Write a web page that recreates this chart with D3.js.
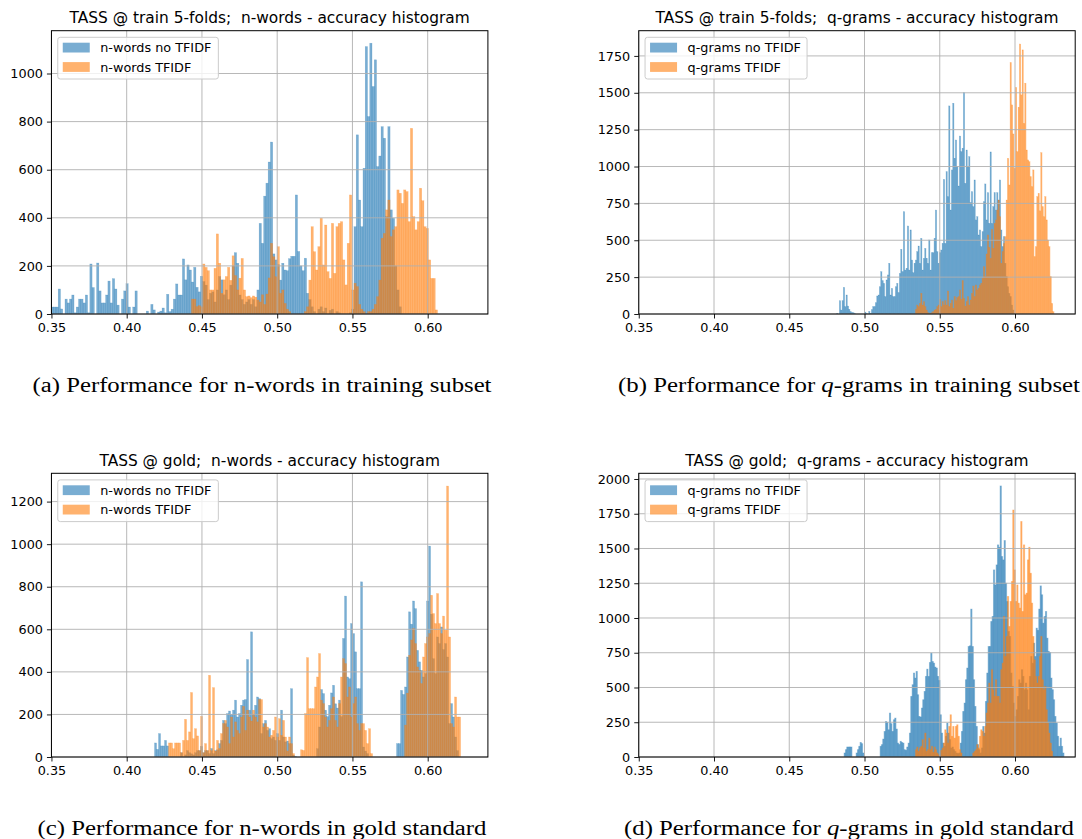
<!DOCTYPE html>
<html>
<head>
<meta charset="utf-8">
<script src="https://cdn.jsdelivr.net/npm/d3@7/dist/d3.min.js"></script>
<style>
  html, body { margin: 0; padding: 0; background: #ffffff; }
  svg { display: block; }
  text { font-family: "DejaVu Sans", sans-serif; }
</style>
</head>
<body>
<svg id="chart" width="1082" height="839"></svg>
<script>
// ---------------- data ----------------
const xTicks = [0.35, 0.40, 0.45, 0.50, 0.55, 0.60];
const yTicksA = [0, 200, 400, 600, 800, 1000];
const yTicksB = [0, 250, 500, 750, 1000, 1250, 1500, 1750];
const yTicksC = [0, 200, 400, 600, 800, 1000, 1200];
const yTicksD = [0, 250, 500, 750, 1000, 1250, 1500, 1750, 2000];

const titles = [
  "TASS @ train 5-folds;  n-words - accuracy histogram",
  "TASS @ train 5-folds;  q-grams - accuracy histogram",
  "TASS @ gold;  n-words - accuracy histogram",
  "TASS @ gold;  q-grams - accuracy histogram"
];
const seriesNames = [
  ["n-words no TFIDF", "n-words TFIDF"],
  ["q-grams no TFIDF", "q-grams TFIDF"],
  ["n-words no TFIDF", "n-words TFIDF"],
  ["q-grams no TFIDF", "q-grams TFIDF"]
];
const captions = [
  ["(a) Performance for n-words in training subset", null],
  ["(b) Performance for ", "q", "-grams in training subset"],
  ["(c) Performance for n-words in gold standard", null],
  ["(d) Performance for ", "q", "-grams in gold standard"]
];

// (a) train, n-words : histogram bins (start, bin width, counts)
const aNoStart = 0.350, aNoWidth = 0.0015;
const aNo = [29,29,29,104,21,0,62,46,62,79,5,29,62,62,46,79,5,208,110,0,
  212,96,46,46,79,137,46,147,104,37,0,62,96,126,29,0,29,96,0,0,
  0,0,12,0,40,17,0,8,12,25,5,82,10,20,62,125,79,79,229,142,
  204,183,133,194,111,92,157,135,120,60,86,92,50,100,156,142,80,100,60,120,
  200,255,211,79,60,40,50,60,40,60,30,100,377,294,490,544,632,715,250,225,
  205,141,211,183,180,230,240,240,495,260,200,180,232,86,60,30,10,0,20,30,
  10,25,0,15,20,0,10,5,0,0,0,0,5,20,363,745,474,363,606,1112,
  821,1126,946,1057,613,657,779,731,405,779,433,398,200,100,30];
const aTfStart = 0.443, aTfWidth = 0.0015;
const aTf = [62,62,31,35,30,208,194,180,100,100,190,333,211,86,142,156,194,140,242,160,
  100,149,231,100,72,75,68,75,70,58,50,80,40,83,150,294,238,155,280,86,
  100,44,20,10,0,0,0,0,0,0,10,30,141,363,259,183,280,398,204,370,
  176,148,377,169,363,377,384,225,121,294,495,100,128,114,40,20,10,0,10,10,
  20,40,72,141,315,335,433,474,322,350,363,516,502,460,516,509,384,772,405,350,
  384,523,471,363,356,225,148,148,17];

// (b) train, q-grams
const bNoStart = 0.4815, bNoWidth = 0.000886;
const bNo = [5,0,90,27,90,181,50,129,54,32,16,9,9,5,0,0,0,0,0,0,
  0,13,5,0,18,5,30,50,50,77,122,129,185,287,226,208,118,231,265,344,
  129,174,118,118,185,208,145,276,439,287,694,298,310,597,298,570,366,280,344,366,
  423,461,344,513,298,378,445,378,344,502,298,416,416,513,705,423,344,416,434,479,
  913,479,965,796,1411,705,977,1429,1056,1180,999,868,1207,1101,1124,1501,886,1112,999,1067,
  755,830,728,909,638,660,536,570,457,558,762,882,638,823,615,1099,615,728,823,705,
  823,773,909,570,457,525,344,253,185,140,118,61,27,5];
const bTfStart = 0.5338, bTfWidth = 0.000886;
const bTf = [32,61,50,72,140,61,84,50,27,9,5,5,9,16,27,32,50,61,100,50,
  84,61,90,61,156,50,72,95,39,118,90,111,118,163,100,226,106,54,84,118,
  61,95,140,190,118,197,163,174,197,208,242,321,253,407,536,452,378,574,445,615,
  638,705,773,660,344,423,479,525,773,1056,875,1705,1418,1221,988,1537,1101,1402,1831,1486,
  1791,1293,1565,1112,1045,1033,931,864,977,389,457,796,818,700,1094,728,660,796,638,502,
  457,253,72,16];

// (c) gold, n-words
const cNoStart = 0.4185, cNoWidth = 0.001329;
const cNo = [66,36,110,52,52,78,52,0,0,0,0,0,0,20,0,10,30,20,15,10,
  20,30,30,50,20,30,30,16,40,16,30,34,63,78,172,157,204,216,200,220,
  267,188,204,243,267,270,458,220,588,200,243,282,274,110,157,172,125,133,86,94,
  78,110,78,220,94,71,75,63,321,8,3,0,0,0,0,0,0,0,0,0,
  0,39,141,317,298,220,190,243,301,337,250,230,267,190,557,756,376,368,627,580,
  494,321,321,823,47,28,16,0,0,0,0,0,0,0,0,0,0,0,0,0,
  0,63,63,313,294,329,470,682,624,733,697,501,447,407,376,392,733,991,671,462,
  392,564,533,611,505,533,470,157,251,188,94,30];
const cTfStart = 0.4278, cTfWidth = 0.001329;
const cTf = [66,66,39,66,66,66,20,78,177,78,118,303,86,133,99,30,191,20,63,30,
  384,30,326,28,78,40,110,157,172,141,63,188,94,165,125,110,188,238,125,220,
  188,169,220,188,165,270,270,141,157,141,94,102,125,188,94,180,102,172,94,28,
  94,63,16,0,0,0,34,31,204,467,227,227,227,329,376,486,267,251,188,141,
  172,227,282,172,141,251,376,462,439,282,329,188,251,282,157,125,157,157,125,63,
  133,16,0,0,0,0,0,0,0,0,0,0,0,0,0,0,0,0,150,300,
  478,550,604,533,423,407,345,470,533,564,580,760,674,627,768,627,580,662,596,1273,
  564,157,141,282,188,188];

// (d) gold, q-grams
const dNoStart = 0.4864, dNoWidth = 0.000886;
const dNo = [29,53,72,72,72,72,0,0,0,29,53,77,105,96,29,0,0,0,0,0,
  0,0,0,0,0,0,0,77,89,129,184,256,249,196,316,240,184,268,280,201,
  100,90,113,105,100,53,48,72,100,172,436,520,604,568,616,448,292,288,352,412,
  472,580,632,580,680,747,687,675,647,640,580,551,304,172,100,77,149,244,172,125,
  65,72,53,41,29,24,29,100,184,328,388,556,640,795,800,1064,795,556,364,220,
  89,53,29,65,220,172,400,604,795,795,975,1011,1346,1238,1382,1526,1509,1950,1442,1418,
  1557,1250,1119,903,867,604,508,388,292,340,436,556,532,628,580,484,532,484,340,580,
  723,675,819,723,927,911,1064,1231,1167,963,1011,1047,855,760,752,568,484,412,292,244,
  149,77,136,77,29];
const dTfStart = 0.5338, dTfWidth = 0.000886;
const dTf = [53,72,41,65,77,125,65,172,41,53,136,53,77,34,72,53,29,17,0,48,
  65,100,196,172,100,220,304,149,220,136,220,232,149,53,29,0,0,0,0,0,
  0,0,0,29,41,53,89,65,149,196,184,149,220,316,388,532,388,628,484,436,
  556,436,436,388,628,675,1011,723,867,1155,939,1119,1262,1777,1346,1119,1238,1107,1071,1694,
  1047,1526,1167,1179,1418,1509,1322,1107,867,699,580,532,580,723,867,556,484,508,340,244,
  172,100,41];

// ---------------- drawing ----------------
const BLUE = "#1f77b4", ORANGE = "#ff7f0e";
const svg = d3.select("#chart");

const panels = [
  { box: [51.45, 30.7, 487.9, 314], yMax: 1178, yTicks: yTicksA, seam: 0.5,
    series: [[aNoStart, aNoWidth, aNo], [aTfStart, aTfWidth, aTf]] },
  { box: [638.75, 30.7, 1075.2, 314], yMax: 1921, yTicks: yTicksB, seam: 0.5,
    series: [[bNoStart, bNoWidth, bNo], [bTfStart, bTfWidth, bTf]] },
  { box: [51.45, 473.3, 487.9, 757], yMax: 1333, yTicks: yTicksC, seam: 0.5,
    series: [[cNoStart, cNoWidth, cNo], [cTfStart, cTfWidth, cTf]] },
  { box: [638.75, 473.3, 1075.2, 757], yMax: 2041, yTicks: yTicksD, seam: 0.8,
    series: [[dNoStart, dNoWidth, dNo], [dTfStart, dTfWidth, dTf]] }
];

const captionPos = [[262, 392, 459], [849, 392, 462], [262, 835, 449], [849, 835, 450]];

panels.forEach((p, pi) => {
  const [x0, y0, x1, y1] = p.box;
  const x = d3.scaleLinear().domain([0.35, 0.64]).range([x0, x1]);
  const y = d3.scaleLinear().domain([0, p.yMax]).range([y1, y0]);
  const g = svg.append("g");

  const clipId = "clip" + pi;
  svg.append("clipPath").attr("id", clipId).append("rect")
    .attr("x", x0).attr("y", y0).attr("width", x1 - x0).attr("height", y1 - y0);

  const bars = g.append("g").attr("clip-path", `url(#${clipId})`);
  p.series.forEach((s, si) => {
    const [start, w, counts] = s;
    const col = si === 0 ? BLUE : ORANGE;
    const data = counts.map((c, i) => ({ lo: start + i * w, hi: start + (i + 1) * w, c }))
      .filter(d => d.c > 0);
    bars.append("g").selectAll("rect").data(data).join("rect")
      .attr("x", d => x(d.lo))
      .attr("width", d => x(d.hi) - x(d.lo))
      .attr("y", d => y(d.c))
      .attr("height", d => y(0) - y(d.c))
      .attr("fill", col)
      .attr("fill-opacity", 0.6)
      .attr("stroke", col)
      .attr("stroke-opacity", 0.35)
      .attr("stroke-width", p.seam);
  });

  // grid (drawn above the bars like matplotlib's default)
  const grid = g.append("g").attr("stroke", "#b0b0b0").attr("stroke-width", 0.9);
  xTicks.forEach(t => grid.append("line")
    .attr("x1", x(t)).attr("x2", x(t)).attr("y1", y0).attr("y2", y1));
  p.yTicks.forEach(t => grid.append("line")
    .attr("x1", x0).attr("x2", x1).attr("y1", y(t)).attr("y2", y(t)));

  // axes
  const xAxis = d3.axisBottom(x).tickValues(xTicks).tickFormat(d3.format(".2f"))
    .tickSizeInner(4.5).tickSizeOuter(0).tickPadding(4);
  const yAxis = d3.axisLeft(y).tickValues(p.yTicks).tickFormat(d3.format("d"))
    .tickSizeInner(4.5).tickSizeOuter(0).tickPadding(4);
  const gx = g.append("g").attr("transform", `translate(0,${y1})`).call(xAxis);
  const gy = g.append("g").attr("transform", `translate(${x0},0)`).call(yAxis);
  [gx, gy].forEach(ax => {
    ax.select(".domain").remove();
    ax.selectAll("line").attr("stroke", "#000").attr("stroke-width", 0.9);
    ax.selectAll("text").attr("fill", "#000").style("font-size", "12.8px")
      .style("font-family", "'DejaVu Sans', sans-serif");
  });

  // frame
  g.append("rect").attr("x", x0).attr("y", y0).attr("width", x1 - x0).attr("height", y1 - y0)
    .attr("fill", "none").attr("stroke", "#000").attr("stroke-width", 1);

  // title
  g.append("text").attr("x", (x0 + x1) / 2).attr("y", y0 - 7.5)
    .attr("text-anchor", "middle").style("font-size", "15.4px").style("white-space", "pre")
    .attr("fill", "#000").text(titles[pi]);

  // legend
  const lg = g.append("g").attr("transform", `translate(${x0 + 6.3},${y0 + 6.6})`);
  const lw = pi % 2 === 0 ? 160.6 : 162;
  lg.append("rect").attr("width", lw).attr("height", 41.7).attr("rx", 2.5)
    .attr("fill", "#fff").attr("fill-opacity", 0.8).attr("stroke", "#cccccc").attr("stroke-width", 1);
  seriesNames[pi].forEach((nm, i) => {
    lg.append("rect").attr("x", 5).attr("y", 5.4 + i * 19.4).attr("width", 27).attr("height", 9.8)
      .attr("fill", i === 0 ? BLUE : ORANGE).attr("fill-opacity", 0.6);
    lg.append("text").attr("x", 42.5).attr("y", 15.2 + i * 19.4)
      .style("font-size", "12.8px").attr("fill", "#000").text(nm);
  });

  // caption
  const [cx, cy, cw] = captionPos[pi];
  const cap = svg.append("text").attr("x", cx).attr("y", cy).attr("text-anchor", "middle")
    .attr("textLength", cw).attr("lengthAdjust", "spacingAndGlyphs")
    .style("font-family", "'Liberation Serif', 'DejaVu Serif', serif").style("font-size", "20px")
    .attr("fill", "#000");
  const parts = captions[pi];
  if (parts[1] === null) {
    cap.text(parts[0]);
  } else {
    cap.append("tspan").text(parts[0]);
    cap.append("tspan").style("font-style", "italic").text(parts[1]);
    cap.append("tspan").text(parts[2]);
  }
});
</script>
</body>
</html>
